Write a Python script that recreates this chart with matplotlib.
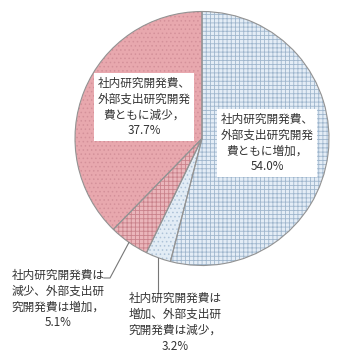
import numpy as np
import matplotlib
matplotlib.use("Agg")
import matplotlib.pyplot as plt

plt.rcParams['font.family'] = ['Noto Sans CJK JP', 'DejaVu Sans']
plt.rcParams['hatch.linewidth'] = 0.6

# Data (clockwise from top)
categories = [
    "社内研究開発費、\n外部支出研究開発\n費ともに増加，",
    "社内研究開発費は\n増加、外部支出研\n究開発費は減少，",
    "社内研究開発費は\n減少、外部支出研\n究開発費は増加，",
    "社内研究開発費、\n外部支出研究開発\n費ともに減少，",
]
values = [54.0, 3.2, 5.1, 37.7]

face_colors = ['#e4edf6', '#e2ecf5', '#ebb6bb', '#e8a8ae']
hatch_colors = ['#9fb6cd', '#aec3d8', '#c9828b', '#d4919a']
hatches = ['++++', '....', '++++', '....']

W, H = 340, 351
fig = plt.figure(figsize=(W / 100, H / 100), dpi=100)
ax = fig.add_axes([0, 0, 1, 1])

cx, cy_px, R = 202, 138.5, 127
cy = H - cy_px

wedges, _ = ax.pie(values, startangle=90, counterclock=False, radius=R,
                   center=(cx, cy), colors=face_colors,
                   wedgeprops=dict(linewidth=0))
for w, hc, h in zip(wedges, hatch_colors, hatches):
    w.set_hatch(h)
    w.set_edgecolor(hc)
    w.set_linewidth(0)

outline, _ = ax.pie(values, startangle=90, counterclock=False, radius=R,
                    center=(cx, cy),
                    wedgeprops=dict(fill=False, edgecolor='#939393', linewidth=0.8))

ax.set_xlim(0, W)
ax.set_ylim(0, H)
ax.set_aspect('equal')
ax.axis('off')

txt_kw = dict(ha='center', va='center', fontsize=8.4, color='#333333', linespacing=1.3)
box = dict(boxstyle='square,pad=0.3', facecolor='white', edgecolor='none')

labels = [c + "\n" + f"{v:.1f}%" for c, v in zip(categories, values)]

# inside labels
ax.text(267, H - 143, labels[0], bbox=box, **txt_kw)
ax.text(144, H - 107, labels[3], bbox=box, **txt_kw)

# leader lines computed from wedge mid-angles
cum = np.cumsum([0] + values)
def edge_point(i):
    mid = (cum[i] + cum[i + 1]) / 2 / 100 * 360
    ang = np.deg2rad(90 - mid)
    return cx + R * np.cos(ang), cy + R * np.sin(ang)

# 3.2% slice
x0, y0 = edge_point(1)
ax.plot([x0, x0], [y0, H - 293], color='#777777', lw=0.8)
ax.text(175, H - 322, labels[1], **txt_kw)

# 5.1% slice
x1, y1 = edge_point(2)
ax.plot([x1, 110, 104], [y1, H - 278, H - 278], color='#777777', lw=0.8)
ax.text(58, H - 299, labels[2], **txt_kw)

fig.savefig('out.png', dpi=100, facecolor='white')
